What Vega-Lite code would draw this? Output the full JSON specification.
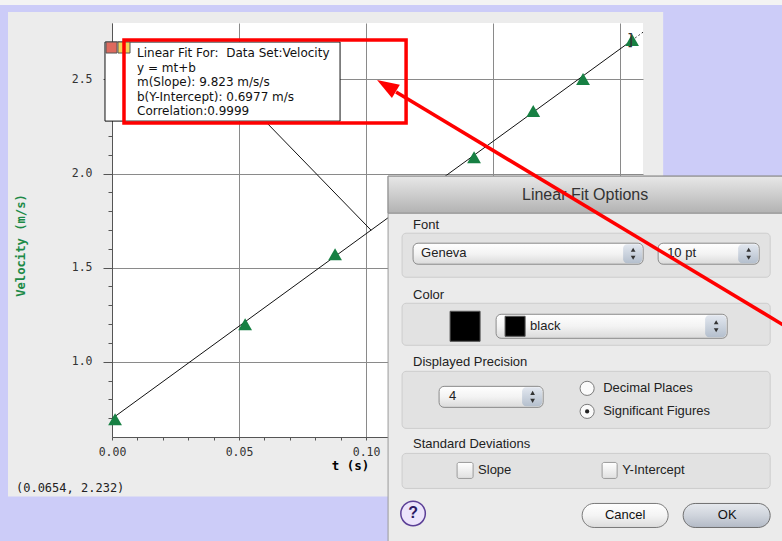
{
  "$schema": "https://vega.github.io/schema/vega-lite/v6.json",
  "width": 531,
  "height": 414,
  "autosize": {"type": "none"},
  "padding": {"left": 112, "top": 23, "right": 139, "bottom": 104},
  "background": "#ececec",
  "config": {"view": {"stroke": null, "fill": "#ffffff"}},
  "encoding": {
    "x": {
      "field": "t", "type": "quantitative",
      "scale": {"domain": [0, 0.209], "nice": false, "zero": false},
      "axis": {
        "values": [0,0.01,0.02,0.03,0.04,0.05,0.06,0.07,0.08,0.09,0.1,0.11,0.12,0.13,0.14,0.15,0.16,0.17,0.18,0.19,0.2],
        "title": "t (s)", "titleFont": "DejaVu Sans Mono", "titleFontWeight": "bold", "titleFontSize": 12.5, "titleColor": "#000000",
        "titleX": 238, "titleY": 28, "titleAlign": "center", "titleBaseline": "middle",
        "labelFont": "DejaVu Sans Mono", "labelFontSize": 11.5, "labelColor": "#333333",
        "labelExpr": "(abs(datum.value*20-round(datum.value*20))<0.001 && datum.value<0.12) ? format(datum.value,'.2f') : ''",
        "labelPadding": 6, "labelFlush": false, "labelOverlap": false, "labelBound": false,
        "tickSize": 3, "tickColor": "#555555", "domainColor": "#555555",
        "grid": true, "gridColor": "#8a8a8a",
        "gridOpacity": {"condition": {"test": "abs(datum.value*20-round(datum.value*20))<0.001", "value": 1}, "value": 0}
      }
    },
    "y": {
      "field": "v", "type": "quantitative",
      "scale": {"domain": [0.6, 2.8], "nice": false, "zero": false},
      "axis": {
        "values": [0.7,0.8,0.9,1.0,1.1,1.2,1.3,1.4,1.5,1.6,1.7,1.8,1.9,2.0,2.1,2.2,2.3,2.4,2.5,2.6,2.7],
        "title": "Velocity (m/s)", "titleFont": "DejaVu Sans Mono", "titleFontWeight": "bold", "titleFontSize": 12.2, "titleColor": "#1d8a47",
        "titleAngle": 270, "titleX": -92, "titleY": 222, "titleAlign": "center", "titleBaseline": "middle",
        "labelFont": "DejaVu Sans Mono", "labelFontSize": 11.5, "labelColor": "#333333",
        "labelExpr": "abs(datum.value*2-round(datum.value*2))<0.001 ? format(datum.value,'.1f') : ''",
        "labelPadding": 11, "labelOverlap": false, "labelBound": false, "labelFlush": false,
        "tickSize": {"condition": {"test": "abs(datum.value*2-round(datum.value*2))<0.001", "value": 9}, "value": 4},
        "tickColor": "#555555", "domainColor": "#555555",
        "grid": true, "gridColor": "#8a8a8a",
        "gridOpacity": {"condition": {"test": "abs(datum.value*2-round(datum.value*2))<0.001", "value": 1}, "value": 0}
      }
    }
  },
  "layer": [
    {"data": {"values": [
      {"t": -0.045, "t2": -0.04094, "v": 0.03, "v2": 2.93},
      {"t": -0.045, "t2": 0.27, "v": 2.85851, "v2": 2.93},
      {"t": 0.21693, "t2": 0.27, "v": 0.03, "v2": 2.93},
      {"t": -0.045, "t2": 0.27, "v": 0.03, "v2": 0.28404}
    ]},
     "mark": {"type": "rect", "fill": "#ccccf8"},
     "encoding": {"x2": {"field": "t2"}, "y2": {"field": "v2"}}},
    {"data": {"values": [{"t": -0.045, "t2": 0.27, "v": 2.89574, "v2": 2.93}]},
     "mark": {"type": "rect", "fill": "#f3f3f3"},
     "encoding": {"x2": {"field": "t2"}, "y2": {"field": "v2"}}},
    {"data": {"values": [{"t": 0, "v": 0.6977}, {"t": 0.2047, "v": 2.7085}]},
     "mark": {"type": "line", "color": "#111111", "strokeWidth": 1},
     "encoding": {}},
    {"data": {"values": [{"t": 0.2047, "v": 2.7085}, {"t": 0.2095, "v": 2.756}]},
     "mark": {"type": "line", "color": "#111111", "strokeWidth": 1, "strokeDash": [1.5, 2.5]},
     "encoding": {}},
    {"data": {"values": [
      {"t": 0.0012, "v": 0.694},
      {"t": 0.0524, "v": 1.199},
      {"t": 0.0878, "v": 1.571},
      {"t": 0.1425, "v": 2.087},
      {"t": 0.1658, "v": 2.332},
      {"t": 0.1854, "v": 2.502},
      {"t": 0.2047, "v": 2.71}
    ]},
     "mark": {"type": "point", "shape": "triangle-up", "filled": true, "fill": "#178043", "opacity": 1, "size": 190},
     "encoding": {}},
    {"data": {"values": [{"t": 0.2039, "v": 2.712, "label": "]"}]},
     "mark": {"type": "text", "font": "DejaVu Sans", "fontSize": 16, "color": "#333333", "align": "center", "baseline": "middle"},
     "encoding": {"text": {"field": "label"}}},
    {"data": {"values": [{"t": 0.06102, "v": 2.26809, "t2": 0.10197, "v2": 1.69894}]},
     "mark": {"type": "rule", "color": "#111111", "strokeWidth": 1},
     "encoding": {"x2": {"field": "t2"}, "y2": {"field": "v2"}}},
    {"data": {"values": [{"t": -0.00276, "t2": 0.08976, "v": 2.27872, "v2": 2.69894}]},
     "mark": {"type": "rect", "fill": "#ffffff", "stroke": "#111111", "strokeWidth": 1},
     "encoding": {"x2": {"field": "t2"}, "y2": {"field": "v2"}}},
    {"data": {"values": [{"t": -0.00236, "t2": 0.00197, "v": 2.64043, "v2": 2.69894}]},
     "mark": {"type": "rect", "fill": "#de6a5e", "stroke": "#555555", "strokeWidth": 1},
     "encoding": {"x2": {"field": "t2"}, "y2": {"field": "v2"}}},
    {"data": {"values": [{"t": 0.00236, "t2": 0.00709, "v": 2.64043, "v2": 2.69894}]},
     "mark": {"type": "rect", "fill": "#f3d55a", "stroke": "#555555", "strokeWidth": 1},
     "encoding": {"x2": {"field": "t2"}, "y2": {"field": "v2"}}},
    {"data": {"values": [
      {"t": 0.00984, "v": 2.64043, "label": "Linear Fit For:\u00a0 Data Set:Velocity"},
      {"t": 0.00984, "v": 2.56064, "label": "y = mt+b"},
      {"t": 0.00984, "v": 2.48617, "label": "m(Slope): 9.823 m/s/s"},
      {"t": 0.00984, "v": 2.40638, "label": "b(Y-Intercept): 0.6977 m/s"},
      {"t": 0.00984, "v": 2.33191, "label": "Correlation:0.9999"}
    ]},
     "mark": {"type": "text", "font": "DejaVu Sans", "fontSize": 12, "color": "#111111", "align": "left", "baseline": "middle"},
     "encoding": {"text": {"field": "label"}}},
    {"data": {"values": [{"t": -0.0378, "v": 0.3266, "label": "(0.0654, 2.232)"}]},
     "mark": {"type": "text", "font": "DejaVu Sans Mono", "fontSize": 12, "color": "#222222", "align": "left", "baseline": "middle"},
     "encoding": {"text": {"field": "label"}}},
    {"data": {"values": [{"t": 0.10866, "t2": 0.27, "v": 0.03, "v2": 1.98617}]},
     "mark": {"type": "rect", "fill": "#ebebeb", "stroke": "#9a9a9a", "strokeWidth": 1},
     "encoding": {"x2": {"field": "t2"}, "y2": {"field": "v2"}}},
    {"data": {"values": [{"t": 0.10866, "t2": 0.27, "v": 1.78936, "v2": 1.98617}]},
     "mark": {"type": "rect", "stroke": "#8a8a8a", "strokeWidth": 1,
              "fill": {"gradient": "linear", "x1": 0, "y1": 0, "x2": 0, "y2": 1, "stops": [{"offset": 0, "color": "#e8e8e8"}, {"offset": 1, "color": "#b2b2b2"}]}},
     "encoding": {"x2": {"field": "t2"}, "y2": {"field": "v2"}}},
    {"data": {"values": [{"t": 0.18622, "v": 1.88511, "label": "Linear Fit Options"}]},
     "mark": {"type": "text", "font": "Liberation Sans", "fontSize": 16, "color": "#333333", "align": "center", "baseline": "middle"},
     "encoding": {"text": {"field": "label"}}},
    {"data": {"values": [
      {"t": 0.11417, "t2": 0.25906, "v": 1.44894, "v2": 1.68298},
      {"t": 0.11417, "t2": 0.25906, "v": 1.08723, "v2": 1.31064},
      {"t": 0.11417, "t2": 0.25906, "v": 0.64574, "v2": 0.94894},
      {"t": 0.11417, "t2": 0.25906, "v": 0.3266, "v2": 0.51277}
    ]},
     "mark": {"type": "rect", "fill": "#e2e2e2", "stroke": "#cdcdcd", "strokeWidth": 1, "cornerRadius": 4},
     "encoding": {"x2": {"field": "t2"}, "y2": {"field": "v2"}}},
    {"data": {"values": [
      {"t": 0.1185, "t2": 0.20906, "v": 1.51809, "v2": 1.62979},
      {"t": 0.21496, "t2": 0.25472, "v": 1.51809, "v2": 1.62979},
      {"t": 0.15118, "t2": 0.24213, "v": 1.12447, "v2": 1.25213},
      {"t": 0.12874, "t2": 0.16969, "v": 0.75745, "v2": 0.86915}
    ]},
     "mark": {"type": "rect", "stroke": "#8a8a8a", "strokeWidth": 1, "cornerRadius": 5,
              "fill": {"gradient": "linear", "x1": 0, "y1": 0, "x2": 0, "y2": 1, "stops": [{"offset": 0, "color": "#ffffff"}, {"offset": 0.5, "color": "#f3f3f3"}, {"offset": 1, "color": "#dadada"}]}},
     "encoding": {"x2": {"field": "t2"}, "y2": {"field": "v2"}}},
    {"data": {"values": [
      {"t": 0.20118, "t2": 0.20866, "v": 1.5234, "v2": 1.62447},
      {"t": 0.24646, "t2": 0.25433, "v": 1.5234, "v2": 1.62447},
      {"t": 0.23346, "t2": 0.24173, "v": 1.12979, "v2": 1.24681},
      {"t": 0.16142, "t2": 0.16929, "v": 0.76277, "v2": 0.86383}
    ]},
     "mark": {"type": "rect", "cornerRadius": 4,
              "fill": {"gradient": "linear", "x1": 0, "y1": 0, "x2": 0, "y2": 1, "stops": [{"offset": 0, "color": "#e2e7ef"}, {"offset": 1, "color": "#b4bfcd"}]}},
     "encoding": {"x2": {"field": "t2"}, "y2": {"field": "v2"}}},
    {"data": {"values": [
      {"t": 0.20512, "v": 1.59521}, {"t": 0.25059, "v": 1.59521}, {"t": 0.2378, "v": 1.20957}, {"t": 0.16555, "v": 0.83457}
    ]},
     "mark": {"type": "point", "shape": "triangle-up", "filled": true, "fill": "#333333", "opacity": 1, "size": 22},
     "encoding": {}},
    {"data": {"values": [
      {"t": 0.20512, "v": 1.55266}, {"t": 0.25059, "v": 1.55266}, {"t": 0.2378, "v": 1.16702}, {"t": 0.16555, "v": 0.79202}
    ]},
     "mark": {"type": "point", "shape": "triangle-down", "filled": true, "fill": "#333333", "opacity": 1, "size": 22},
     "encoding": {}},
    {"data": {"values": [
      {"t": 0.13307, "t2": 0.14488, "v": 1.10851, "v2": 1.26809},
      {"t": 0.15472, "t2": 0.1626, "v": 1.13511, "v2": 1.24149}
    ]},
     "mark": {"type": "rect", "fill": "#000000", "stroke": "#555555", "strokeWidth": 1},
     "encoding": {"x2": {"field": "t2"}, "y2": {"field": "v2"}}},
    {"data": {"values": [
      {"t": 0.13583, "t2": 0.14213, "v": 0.37979, "v2": 0.46489},
      {"t": 0.19291, "t2": 0.19882, "v": 0.37979, "v2": 0.46489}
    ]},
     "mark": {"type": "rect", "stroke": "#9a9a9a", "strokeWidth": 1, "cornerRadius": 2,
              "fill": {"gradient": "linear", "x1": 0, "y1": 0, "x2": 0, "y2": 1, "stops": [{"offset": 0, "color": "#ffffff"}, {"offset": 1, "color": "#e0e0e0"}]}},
     "encoding": {"x2": {"field": "t2"}, "y2": {"field": "v2"}}},
    {"data": {"values": [{"t": 0.18701, "v": 0.85851}, {"t": 0.18701, "v": 0.73617}]},
     "mark": {"type": "point", "shape": "circle", "filled": true, "fill": "#fafafa", "stroke": "#7a7a7a", "strokeWidth": 1, "opacity": 1, "size": 200},
     "encoding": {}},
    {"data": {"values": [{"t": 0.18701, "v": 0.73617}]},
     "mark": {"type": "point", "shape": "circle", "filled": true, "fill": "#222222", "opacity": 1, "size": 18},
     "encoding": {}},
    {"data": {"values": [
      {"t": 0.1185, "v": 1.72553, "label": "Font"},
      {"t": 0.1185, "v": 1.35319, "label": "Color"},
      {"t": 0.1185, "v": 0.99681, "label": "Displayed Precision"},
      {"t": 0.1185, "v": 0.56064, "label": "Standard Deviations"},
      {"t": 0.12165, "v": 1.5766, "label": "Geneva"},
      {"t": 0.2185, "v": 1.5766, "label": "10 pt"},
      {"t": 0.16457, "v": 1.1883, "label": "black"},
      {"t": 0.13268, "v": 0.81596, "label": "4"},
      {"t": 0.19331, "v": 0.85851, "label": "Decimal Places"},
      {"t": 0.19331, "v": 0.73617, "label": "Significant Figures"},
      {"t": 0.14409, "v": 0.42234, "label": "Slope"},
      {"t": 0.20079, "v": 0.42234, "label": "Y-Intercept"}
    ]},
     "mark": {"type": "text", "font": "Liberation Sans", "fontSize": 13, "color": "#222222", "align": "left", "baseline": "middle"},
     "encoding": {"text": {"field": "label"}}},
    {"data": {"values": [{"t": 0.1185, "v": 0.19362}]},
     "mark": {"type": "point", "shape": "circle", "filled": true, "fill": "#ece4fb", "stroke": "#5b3f96", "strokeWidth": 1.5, "opacity": 1, "size": 600},
     "encoding": {}},
    {"data": {"values": [{"t": 0.1185, "v": 0.19362, "label": "?"}]},
     "mark": {"type": "text", "font": "Liberation Sans", "fontSize": 16, "fontWeight": "bold", "color": "#2c1c64", "align": "center", "baseline": "middle"},
     "encoding": {"text": {"field": "label"}}},
    {"data": {"values": [{"t": 0.18504, "t2": 0.2189, "v": 0.11915, "v2": 0.24681}]},
     "mark": {"type": "rect", "stroke": "#7a7a7a", "strokeWidth": 1, "cornerRadius": 12,
              "fill": {"gradient": "linear", "x1": 0, "y1": 0, "x2": 0, "y2": 1, "stops": [{"offset": 0, "color": "#ffffff"}, {"offset": 0.5, "color": "#f4f4f4"}, {"offset": 1, "color": "#dcdcdc"}]}},
     "encoding": {"x2": {"field": "t2"}, "y2": {"field": "v2"}}},
    {"data": {"values": [{"t": 0.2248, "t2": 0.25906, "v": 0.11915, "v2": 0.24681}]},
     "mark": {"type": "rect", "stroke": "#6f6f6f", "strokeWidth": 1, "cornerRadius": 12,
              "fill": {"gradient": "linear", "x1": 0, "y1": 0, "x2": 0, "y2": 1, "stops": [{"offset": 0, "color": "#e6e9ee"}, {"offset": 0.5, "color": "#cfd4dc"}, {"offset": 1, "color": "#b3bac6"}]}},
     "encoding": {"x2": {"field": "t2"}, "y2": {"field": "v2"}}},
    {"data": {"values": [
      {"t": 0.20197, "v": 0.18298, "label": "Cancel"},
      {"t": 0.24213, "v": 0.18298, "label": "OK"}
    ]},
     "mark": {"type": "text", "font": "Liberation Sans", "fontSize": 13, "color": "#111111", "align": "center", "baseline": "middle"},
     "encoding": {"text": {"field": "label"}}},
    {"data": {"values": [{"t": 0.00472, "t2": 0.11575, "v": 2.26809, "v2": 2.70957}]},
     "mark": {"type": "rect", "fill": null, "fillOpacity": 0, "stroke": "#ff0000", "strokeWidth": 3.5},
     "encoding": {"x2": {"field": "t2"}, "y2": {"field": "v2"}}},
    {"data": {"values": [{"t": 0.26614, "v": 1.17979, "t2": 0.11181, "v2": 2.43298}]},
     "mark": {"type": "rule", "color": "#ff0000", "strokeWidth": 3.5},
     "encoding": {"x2": {"field": "t2"}, "y2": {"field": "v2"}}},
    {"data": {"values": [{"t": 0.10803, "v": 2.46649}]},
     "mark": {"type": "point", "shape": "M0,-1L0.7,1L-0.7,1Z", "filled": true, "fill": "#ff0000", "opacity": 1, "size": 484, "angle": 301},
     "encoding": {}}
  ]
}
